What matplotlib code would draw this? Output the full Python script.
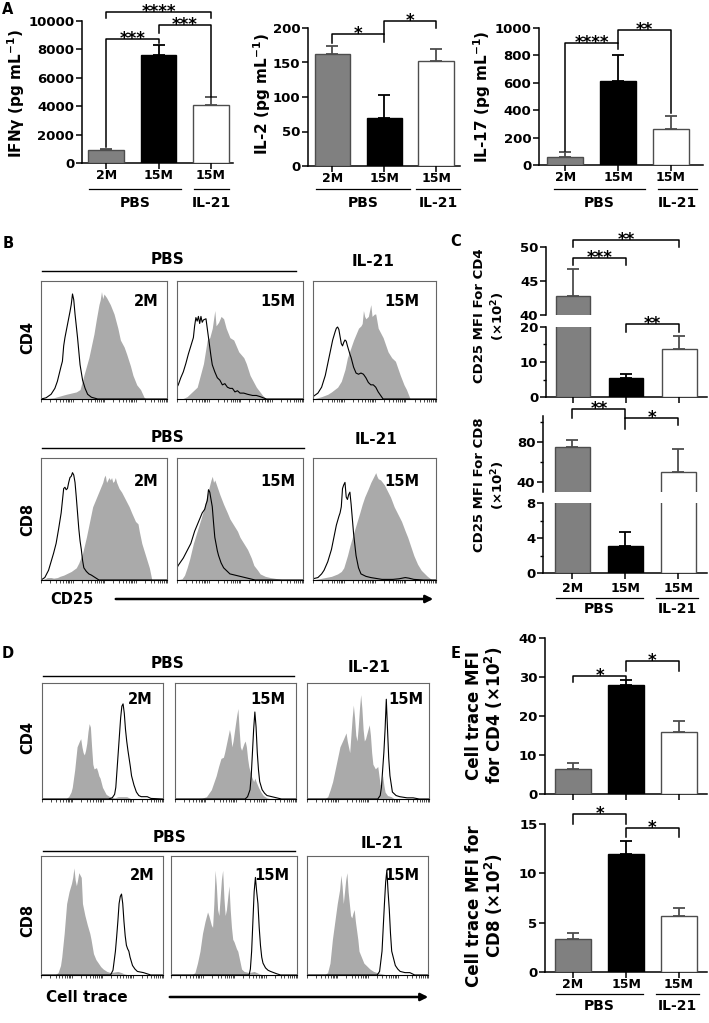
import matplotlib.pyplot as plt
from matplotlib.lines import Line2D
from matplotlib.patches import FancyArrowPatch
import numpy as np

plt.rcParams['font.family'] = ['DejaVu Sans']
plt.rcParams['font.weight'] = 'bold'

W, H = 709, 1023

# ---------------- data ----------------
groups = ['2M', '15M', '15M']
bar_colors = ['#808080', '#000000', '#ffffff']
edge_colors = ['#4d4d4d', '#000000', '#4d4d4d']

# panel A (pg/mL), mean and upper error
ifng = [890, 7640, 4090]
ifng_sd = [110, 650, 540]
il2 = [162, 70, 152]
il2_sd = [12, 33, 17]
il17 = [61, 614, 260]
il17_sd = [31, 187, 100]

# panel C (x10^2)
cd25_cd4 = [42.8, 5.4, 13.6]
cd25_cd4_sd = [4.0, 1.1, 3.9]
cd25_cd8 = [75, 3.1, 50]
cd25_cd8_sd = [6.7, 1.55, 23.3]

# panel E (x10^2)
ct_cd4 = [6.5, 28.0, 15.8]
ct_cd4_sd = [1.5, 1.3, 2.8]
ct_cd8 = [3.3, 12.0, 5.7]
ct_cd8_sd = [0.7, 1.25, 0.75]

# panel B histograms: (channel %, count % of box height)
cd25_cd4_2m_fill = [(0, 0), (10, 1), (20, 4), (28, 6), (31, 8), (34, 20), (38, 35), (42, 55), (44, 68), (46, 80),
                    (47, 84), (48, 91), (49, 85), (50, 89), (52, 86), (55, 80), (58, 72), (61, 60), (63, 50),
                    (66, 44), (68, 38), (71, 28), (73, 20), (76, 12), (79, 8), (82, 1), (84, 0), (100, 0)]
cd25_cd4_2m_open = [(0, 0), (4, 1), (8, 4), (11, 9), (13, 15), (16, 28), (17, 32), (18, 45), (19, 52), (21, 63),
                    (23, 74), (24, 80), (25, 89), (26, 84), (27, 72), (29, 52), (31, 29), (33, 16), (35, 9),
                    (37, 4), (40, 1.5), (45, 0), (100, 0)]
cd25_cd4_15m_fill = [(0, 0), (5, 0.5), (8, 2), (16, 10), (21, 30), (24, 50), (26, 52), (28, 60), (30, 75), (31, 62),
                     (33, 65), (35, 70), (37, 68), (39, 60), (42, 52), (45, 50), (49, 40), (53, 35), (55, 30),
                     (58, 20), (63, 10), (68, 3), (71, 0), (100, 0)]
cd25_cd4_15m_open = [(0, 10), (1, 12), (3, 18), (5, 23), (7, 30), (9, 38), (11, 45), (13, 52), (14, 62), (15, 69),
                     (16, 66), (17, 70), (18, 64), (19, 70), (20, 65), (21, 67), (23, 68), (24, 60), (25, 52),
                     (27, 36), (28, 29), (30, 23), (32, 18), (34, 16), (36, 12), (38, 13), (40, 10), (42, 9),
                     (44, 9), (46, 6), (48, 7), (50, 5), (53, 5), (56, 4), (60, 3), (63, 3), (66, 2), (71, 0),
                     (100, 0)]
cd25_cd4_il21_fill = [(0, 0), (7, 2), (12, 4), (15, 6), (20, 10), (23, 15), (26, 25), (28, 35), (31, 44), (33, 50),
                      (35, 55), (37, 60), (39, 62), (40, 64), (41, 75), (42, 70), (43, 68), (45, 70), (46, 75),
                      (47, 80), (48, 70), (50, 72), (51, 72), (53, 60), (55, 56), (57, 52), (59, 46), (61, 40),
                      (64, 35), (67, 32), (69, 26), (71, 20), (74, 12), (76, 8), (79, 0), (100, 0)]
cd25_cd4_il21_open = [(0, 2), (4, 5), (7, 10), (10, 20), (12, 30), (14, 40), (16, 50), (18, 57), (19, 60), (20, 61),
                      (21, 59), (22, 53), (23, 47), (24, 45), (25, 48), (26, 50), (27, 49), (28, 45), (30, 38),
                      (31, 35), (33, 27), (35, 22), (37, 21), (39, 22), (41, 21), (43, 18), (45, 14), (47, 12),
                      (49, 12), (51, 10), (53, 6), (55, 3), (57, 0), (100, 0)]
cd25_cd8_2m_fill = [(0, 0), (3, 1), (5, 2), (8, 2), (10, 1.5), (13, 2), (15, 3), (18, 4), (20, 5), (24, 7), (28, 10),
                    (30, 14), (33, 22), (36, 35), (38, 45), (40, 55), (41, 60), (43, 65), (45, 70), (47, 75),
                    (49, 80), (50, 84), (51, 86), (52, 80), (53, 82), (54, 84), (55, 82), (56, 84), (57, 80),
                    (58, 81), (59, 84), (60, 80), (62, 75), (64, 72), (67, 66), (70, 60), (72, 55), (75, 48),
                    (77, 46), (78, 40), (80, 30), (83, 20), (86, 10), (88, 0), (100, 0)]
cd25_cd8_2m_open = [(0, 0), (3, 2), (6, 8), (8, 15), (10, 22), (12, 30), (14, 42), (16, 55), (17, 65), (18, 75),
                    (19, 76), (20, 74), (21, 75), (22, 80), (23, 84), (24, 85), (25, 88), (26, 86), (27, 80),
                    (28, 68), (29, 55), (30, 42), (31, 32), (32, 25), (33, 16), (34, 10), (36, 7), (38, 5),
                    (40, 4), (43, 2), (46, 0), (100, 0)]
cd25_cd8_15m_fill = [(0, 0), (4, 1), (6, 4), (8, 10), (10, 17), (13, 30), (16, 40), (19, 50), (21, 57), (24, 70),
                     (26, 78), (27, 82), (28, 85), (29, 80), (30, 82), (32, 76), (34, 70), (37, 62), (40, 55),
                     (42, 50), (45, 45), (48, 40), (50, 35), (53, 30), (56, 25), (59, 18), (61, 12), (64, 8),
                     (66, 5), (70, 3), (74, 2), (80, 1), (85, 0), (100, 0)]
cd25_cd8_15m_open = [(0, 10), (1, 12), (3, 15), (5, 18), (8, 24), (11, 30), (14, 40), (16, 45), (18, 50), (20, 55),
                     (22, 58), (23, 62), (24, 65), (25, 74), (26, 72), (27, 66), (28, 60), (29, 47), (30, 35),
                     (32, 24), (33, 20), (35, 14), (37, 10), (40, 7), (42, 5), (46, 4), (50, 3), (54, 2), (58, 1),
                     (62, 0), (100, 0)]
cd25_cd8_il21_fill = [(0, 0), (5, 1), (10, 2), (15, 3), (20, 5), (23, 7), (25, 10), (28, 20), (30, 28), (32, 35),
                      (35, 45), (38, 55), (40, 62), (42, 68), (45, 75), (47, 80), (49, 84), (50, 86), (51, 88),
                      (52, 85), (53, 83), (55, 82), (58, 78), (61, 72), (63, 68), (66, 60), (69, 54), (72, 48),
                      (75, 40), (77, 35), (80, 26), (82, 20), (85, 13), (88, 8), (91, 5), (93, 3), (97, 0), (100, 0)]
cd25_cd8_il21_open = [(0, 1), (4, 2), (7, 5), (9, 8), (12, 15), (15, 25), (17, 35), (19, 45), (21, 52), (22, 55),
                      (23, 60), (24, 75), (25, 78), (26, 80), (27, 68), (28, 66), (29, 70), (30, 72), (31, 62),
                      (32, 50), (33, 38), (35, 20), (37, 10), (39, 5), (43, 3), (47, 2), (53, 1), (56, 0.5),
                      (65, 0.5), (70, 1), (75, 2), (78, 1.5), (82, 0.5), (90, 0), (100, 0)]

# panel D histograms
ct_cd4_2m_fill = [(0, 0), (20, 0.5), (22, 2), (24, 6), (25, 10), (27, 25), (28, 35), (29, 45), (31, 50), (32, 52),
                  (33, 45), (34, 40), (35, 38), (36, 42), (37, 48), (38, 58), (39, 65), (40, 62), (41, 45),
                  (42, 30), (43, 26), (45, 27), (46, 24), (47, 20), (48, 18), (50, 10), (52, 6), (53, 4), (56, 2),
                  (60, 1), (63, 2), (68, 2), (70, 2), (74, 0), (100, 0)]
ct_cd4_2m_open = [(0, 0), (55, 0), (58, 1), (60, 4), (61, 10), (62, 25), (63, 40), (64, 55), (65, 70), (66, 80),
                  (67, 82), (68, 74), (69, 60), (70, 50), (71, 42), (72, 35), (73, 28), (74, 20), (76, 12),
                  (78, 6), (80, 3), (82, 2), (84, 2), (87, 2), (90, 0.5), (100, 0)]
ct_cd4_15m_fill = [(0, 0), (22, 0.5), (26, 2), (30, 8), (34, 20), (36, 28), (38, 35), (40, 36), (41, 40), (43, 50),
                   (45, 60), (46, 55), (47, 45), (48, 50), (50, 65), (51, 72), (52, 78), (53, 60), (54, 45),
                   (55, 42), (57, 48), (58, 50), (59, 45), (60, 35), (61, 28), (63, 20), (65, 15), (66, 18),
                   (67, 15), (69, 10), (71, 6), (73, 3), (76, 1), (80, 0), (100, 0)]
ct_cd4_15m_open = [(0, 0), (58, 0), (60, 2), (62, 8), (63, 20), (64, 40), (65, 60), (66, 75), (67, 62), (68, 40),
                   (69, 25), (70, 15), (72, 8), (74, 5), (76, 3), (80, 2), (84, 1), (88, 0), (100, 0)]
ct_cd4_il21_fill = [(0, 0), (15, 0.5), (17, 2), (19, 8), (21, 15), (24, 30), (27, 45), (30, 52), (32, 57), (33, 50),
                    (35, 40), (36, 55), (37, 70), (38, 81), (39, 70), (40, 55), (41, 50), (42, 62), (43, 78),
                    (44, 90), (45, 78), (46, 60), (47, 50), (48, 52), (50, 60), (51, 64), (52, 55), (53, 40),
                    (54, 30), (56, 26), (58, 28), (59, 20), (60, 12), (61, 15), (62, 20), (63, 12), (64, 6),
                    (66, 3), (69, 2), (72, 0), (100, 0)]
ct_cd4_il21_open = [(0, 0), (58, 0), (60, 3), (61, 10), (62, 25), (63, 40), (64, 60), (65, 86), (66, 60), (67, 35),
                    (68, 20), (70, 6), (73, 3), (76, 2), (82, 1), (87, 1), (92, 0), (100, 0)]
ct_cd8_2m_fill = [(0, 0), (12, 0.5), (14, 2), (16, 8), (17, 15), (19, 35), (21, 60), (23, 70), (25, 77), (26, 82),
                  (27, 90), (28, 80), (29, 75), (30, 80), (31, 86), (32, 84), (33, 82), (34, 60), (36, 50),
                  (38, 42), (40, 35), (41, 30), (43, 18), (45, 13), (47, 10), (49, 7), (51, 5), (54, 3), (57, 2),
                  (60, 2.5), (63, 3), (66, 2), (68, 1), (72, 0), (100, 0)]
ct_cd8_2m_open = [(0, 0), (57, 0), (59, 4), (61, 20), (62, 32), (63, 45), (64, 60), (65, 66), (66, 68), (67, 60),
                  (68, 45), (69, 33), (70, 25), (71, 22), (72, 20), (73, 15), (75, 8), (77, 5), (79, 3), (84, 2),
                  (90, 0), (100, 0)]
ct_cd8_15m_fill = [(0, 0), (17, 0.5), (19, 2), (21, 10), (23, 20), (25, 35), (27, 45), (29, 53), (30, 50), (32, 42),
                   (33, 40), (34, 60), (35, 88), (36, 75), (37, 55), (38, 50), (39, 65), (40, 80), (41, 88),
                   (42, 65), (43, 50), (44, 55), (45, 65), (46, 75), (47, 55), (48, 40), (49, 30), (50, 28),
                   (52, 22), (53, 20), (55, 10), (56, 5), (58, 3), (62, 2), (66, 3), (70, 1), (74, 0), (100, 0)]
ct_cd8_15m_open = [(0, 0), (62, 0), (63, 5), (64, 20), (65, 45), (66, 70), (67, 82), (68, 70), (69, 60), (70, 40),
                   (71, 25), (72, 15), (73, 10), (75, 6), (77, 4), (79, 3), (84, 1), (87, 0), (100, 0)]
ct_cd8_il21_fill = [(0, 0), (15, 0.5), (17, 2), (19, 10), (21, 30), (23, 45), (25, 60), (27, 72), (28, 84), (29, 75),
                    (30, 60), (31, 70), (32, 80), (33, 86), (34, 70), (35, 60), (36, 50), (37, 48), (38, 52),
                    (39, 55), (40, 45), (42, 30), (43, 20), (45, 15), (47, 10), (50, 7), (52, 5), (55, 3), (58, 2),
                    (62, 1), (66, 0), (100, 0)]
ct_cd8_il21_open = [(0, 0), (58, 0), (60, 3), (62, 20), (63, 40), (64, 60), (65, 78), (66, 88), (67, 70), (68, 55),
                    (69, 35), (70, 20), (72, 12), (73, 8), (75, 5), (77, 3), (81, 2), (85, 2), (89, 0), (100, 0)]

fig = plt.figure(figsize=(W / 100, H / 100), dpi=100)


def px_axes(x0, y0, x1, y1):
    return fig.add_axes([x0 / W, 1 - y1 / H, (x1 - x0) / W, (y1 - y0) / H])


def ftext(x, y, s, size=10, **kw):
    kw.setdefault('ha', 'center')
    kw.setdefault('va', 'center')
    fig.text(x / W, 1 - y / H, s, fontsize=size, fontweight='bold', **kw)


def fline(x0, x1, y, lw=1.0):
    fig.add_artist(Line2D([x0 / W, x1 / W], [1 - y / H, 1 - y / H], color='black', lw=lw))


def farrow(x0, x1, y):
    fig.add_artist(FancyArrowPatch((x0 / W, 1 - y / H), (x1 / W, 1 - y / H), transform=fig.transFigure,
                                   arrowstyle='-|>', mutation_scale=11, lw=1.8, color='black'))


def draw_bars(ax, means, sds, width=0.68):
    x = np.arange(len(means))
    ax.bar(x, means, width=width, color=bar_colors, edgecolor=edge_colors, linewidth=1.0, zorder=3)
    for xi, m, s, ec in zip(x, means, sds, edge_colors):
        ax.errorbar(xi, m, yerr=[[0], [s]], fmt='none', ecolor=ec, elinewidth=1.3,
                    capsize=4, capthick=1.3, zorder=2)


def style(ax, xlim, ylim, yticks, minor=None, bottom=True, labels=False, pad=0.0):
    ax.set_xlim(xlim)
    ax.set_ylim(ylim)
    ax.patch.set_alpha(0)
    ax.spines['top'].set_visible(False)
    ax.spines['right'].set_visible(False)
    ax.spines['left'].set_linewidth(1.1)
    ax.spines['bottom'].set_linewidth(1.1)
    ax.set_yticks(yticks)
    if minor:
        ax.set_yticks(minor, minor=True)
    ax.tick_params(axis='y', which='major', length=4, width=1.1, labelsize=9.5, pad=1.5)
    ax.tick_params(axis='y', which='minor', length=2.5, width=1.0)
    if bottom:
        ax.set_xticks(range(3))
        ax.set_xticklabels(groups if labels else [])
        ax.tick_params(axis='x', length=4, width=1.1, labelsize=9, pad=pad)
    else:
        ax.spines['bottom'].set_visible(False)
        ax.set_xticks([])


def bracket(ax, x1, x2, y, y1, y2, label, size=12):
    ax.plot([x1, x1, x2, x2], [y1, y, y, y2], color='black', lw=1.1, clip_on=False, zorder=5)
    ax.annotate(label, xy=((x1 + x2) / 2, y), xytext=(0, -3.5), textcoords='offset points',
                ha='center', va='baseline', fontsize=size, fontweight='bold', annotation_clip=False)


def group_labels(u_pbs, u_il, y_line, y_text):
    fline(u_pbs[0], u_pbs[1], y_line, lw=0.9)
    fline(u_il[0], u_il[1], y_line, lw=0.9)
    ftext((u_pbs[0] + u_pbs[1]) / 2, y_text, 'PBS', 10)
    ftext((u_il[0] + u_il[1]) / 2, y_text, 'IL-21', 10)


log_ticks = [d * 25 + 25 * np.log10(k) for d in range(4) for k in range(1, 10)] + [100]


def hist_box(x0, y0, x1, y1, filled, outline):
    ax = px_axes(x0, y0, x1, y1)
    ax.fill_between([p[0] for p in filled], 0, [p[1] for p in filled], color='#aaaaaa', lw=0, zorder=1)
    ax.plot([p[0] for p in outline], [p[1] for p in outline], color='black', lw=0.8, zorder=2)
    ax.set_xlim(0, 100)
    ax.set_ylim(0, 100)
    for s in ax.spines.values():
        s.set_color('#666666')
        s.set_linewidth(0.8)
    ax.spines['bottom'].set_color('black')
    ax.set_yticks([])
    ax.set_xticks(log_ticks)
    ax.set_xticklabels([])
    ax.tick_params(axis='x', length=2, width=0.5, direction='out')
    return ax


# ---------------- panel A ----------------
ax = px_axes(82, 21, 233, 163)
draw_bars(ax, ifng, ifng_sd)
style(ax, (-0.46, 2.42), (0, 10000), range(0, 10001, 2000), labels=True)
bracket(ax, 0, 1, 8730, 1130, 8450, '***')
bracket(ax, 1, 2, 9710, 9150, 4650, '***')
bracket(ax, 0, 2, 10630, 10200, 10200, '****')
ftext(16, 94, 'IFNγ (pg mL$^{\\mathbf{-1}}$)', 11, rotation=90)
group_labels((89, 181), (194, 229), 189, 203)

ax = px_axes(308, 28, 460, 166)
draw_bars(ax, il2, il2_sd)
style(ax, (-0.47, 2.46), (0, 200), range(0, 201, 50), labels=True)
bracket(ax, 0, 1, 191, 178, 179, '*')
bracket(ax, 1, 2, 210.6, 192, 199.6, '*')
ftext(262, 94, 'IL-2 (pg mL$^{\\mathbf{-1}}$)', 11, rotation=90)
group_labels((316, 410), (416, 460), 189, 203)

ax = px_axes(539, 28, 703, 165)
draw_bars(ax, il17, il17_sd)
style(ax, (-0.50, 2.61), (0, 1000), range(0, 1001, 200), labels=True)
bracket(ax, 0, 1, 891, 100, 850, '****')
bracket(ax, 1, 2, 988, 890, 376, '**')
ftext(482, 97, 'IL-17 (pg mL$^{\\mathbf{-1}}$)', 11, rotation=90)
group_labels((554, 645), (658, 697), 189, 203)

# ---------------- panel C ----------------
xl_c4 = (-0.507, 2.52)
ax = px_axes(546, 247, 707, 315)
draw_bars(ax, cd25_cd4, cd25_cd4_sd, width=0.65)
style(ax, xl_c4, (40, 50), [40, 45, 50], bottom=False)
bracket(ax, 0, 2, 51.0, 50.0, 50.0, '**')
bracket(ax, 0, 1, 48.4, 47.3, 47.3, '***')
ax = px_axes(546, 327, 707, 397)
draw_bars(ax, cd25_cd4, cd25_cd4_sd, width=0.65)
style(ax, xl_c4, (0, 20), [0, 10, 20], minor=[5, 15])
bracket(ax, 1, 2, 20.9, 18.6, 18.6, '**')
ftext(490, 316, 'CD25 MFI For CD4\n(×10$^{\\mathbf{2}}$)', 9.5, rotation=90, linespacing=1.3)

xl_c8 = (-0.557, 2.54)
ax = px_axes(543, 416, 707, 492)
draw_bars(ax, cd25_cd8, cd25_cd8_sd, width=0.65)
style(ax, xl_c8, (30, 106), [40, 80], minor=[60, 100], bottom=False)
bracket(ax, 0, 1, 113, 104, 104, '**')
bracket(ax, 1, 2, 104, 93, 97, '*')
ax = px_axes(543, 503, 707, 573)
draw_bars(ax, cd25_cd8, cd25_cd8_sd, width=0.65)
style(ax, xl_c8, (0, 8), [0, 4, 8], minor=[2, 6], labels=True, pad=2.5)
ftext(490, 485, 'CD25 MFI For CD8\n(×10$^{\\mathbf{2}}$)', 9.5, rotation=90, linespacing=1.3)
group_labels((556, 643), (656, 698), 598, 609)

# ---------------- panel E ----------------
xl_e = (-0.53, 2.53)
ax = px_axes(545, 638, 707, 794)
draw_bars(ax, ct_cd4, ct_cd4_sd)
style(ax, xl_e, (0, 40), range(0, 41, 10))
bracket(ax, 0, 1, 30.3, 28.8, 29.4, '*')
bracket(ax, 1, 2, 34.0, 31.5, 31.5, '*')
ftext(485, 715, 'Cell trace MFI\nfor CD4 (×10$^{\\mathbf{2}}$)', 12, rotation=90, linespacing=1.0)

ax = px_axes(545, 824, 707, 972)
draw_bars(ax, ct_cd8, ct_cd8_sd)
style(ax, xl_e, (0, 15), range(0, 16, 5), labels=True, pad=0.0)
bracket(ax, 0, 1, 16.0, 15.0, 15.0, '*')
bracket(ax, 1, 2, 14.6, 13.7, 13.7, '*')
ftext(485, 906, 'Cell trace MFI for\nCD8 (×10$^{\\mathbf{2}}$)', 12, rotation=90, linespacing=1.0)
group_labels((556, 643), (656, 699), 994, 1006)

# ---------------- panel B ----------------
b_cols = [(41, 167), (177, 303), (313, 436)]
row_b1 = [(cd25_cd4_2m_fill, cd25_cd4_2m_open), (cd25_cd4_15m_fill, cd25_cd4_15m_open),
          (cd25_cd4_il21_fill, cd25_cd4_il21_open)]
row_b2 = [(cd25_cd8_2m_fill, cd25_cd8_2m_open), (cd25_cd8_15m_fill, cd25_cd8_15m_open),
          (cd25_cd8_il21_fill, cd25_cd8_il21_open)]
for (x0, x1), (f, o) in zip(b_cols, row_b1):
    hist_box(x0, 281, x1, 399, f, o)
for (x0, x1), (f, o) in zip(b_cols, row_b2):
    hist_box(x0, 458, x1, 580, f, o)
for x, lab in zip([146, 278, 402], groups):
    ftext(x, 302, lab, 10.5)
    ftext(x, 482, lab, 10.5)
ftext(168, 260, 'PBS', 11)
fline(42, 296, 271)
ftext(373, 262, 'IL-21', 11)
ftext(168, 437, 'PBS', 11)
fline(42, 304, 448)
ftext(376, 439, 'IL-21', 11)
ftext(28, 338, 'CD4', 10.5, rotation=90)
ftext(28, 519, 'CD8', 10.5, rotation=90)
ftext(72, 599, 'CD25', 10.5)
farrow(113, 436, 599)

# ---------------- panel D ----------------
d_cols1 = [(42, 163), (175, 296), (307, 429)]
d_cols2 = [(41, 163), (171, 297), (307, 428)]
row_d1 = [(ct_cd4_2m_fill, ct_cd4_2m_open), (ct_cd4_15m_fill, ct_cd4_15m_open),
          (ct_cd4_il21_fill, ct_cd4_il21_open)]
row_d2 = [(ct_cd8_2m_fill, ct_cd8_2m_open), (ct_cd8_15m_fill, ct_cd8_15m_open),
          (ct_cd8_il21_fill, ct_cd8_il21_open)]
for (x0, x1), (f, o) in zip(d_cols1, row_d1):
    hist_box(x0, 683, x1, 799, f, o)
for (x0, x1), (f, o) in zip(d_cols2, row_d2):
    hist_box(x0, 856, x1, 975, f, o)
for x, lab in zip([140, 268, 406], groups):
    ftext(x, 699, lab, 10.5)
for x, lab in zip([142, 272, 402], groups):
    ftext(x, 875, lab, 10.5)
ftext(168, 663, 'PBS', 11)
fline(43, 294, 676)
ftext(369, 667, 'IL-21', 11)
ftext(170, 838, 'PBS', 11)
fline(43, 295, 851)
ftext(382, 843, 'IL-21', 11)
ftext(28, 738, 'CD4', 10.5, rotation=90)
ftext(28, 920, 'CD8', 10.5, rotation=90)
ftext(87, 997, 'Cell trace', 11)
farrow(167, 431, 997)

# panel letters
for x, y, s in [(2, 10, 'A'), (3, 243, 'B'), (450, 241, 'C'), (2, 653, 'D'), (451, 653, 'E')]:
    ftext(x, y, s, 10.5, ha='left')

fig.savefig('out.png', dpi=100)
